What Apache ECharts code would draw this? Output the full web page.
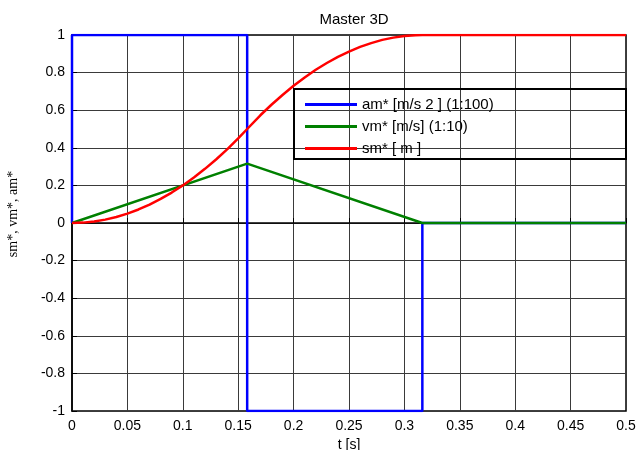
<!DOCTYPE html>
<html>
<head>
<meta charset="utf-8">
<script src="https://cdn.jsdelivr.net/npm/echarts@6/dist/echarts.min.js"></script>
<style>html,body{margin:0;padding:0;background:#fff}#c{width:637px;height:450px}</style>
</head>
<body>
<div id="c"></div>
<script>
var xTicks = [0, 0.05, 0.1, 0.15, 0.2, 0.25, 0.3, 0.35, 0.4, 0.45, 0.5];
var yTicks = [-1, -0.8, -0.6, -0.4, -0.2, 0, 0.2, 0.4, 0.6, 0.8, 1];
var seriesNames = ['am* [m/s 2 ] (1:100)', 'vm* [m/s] (1:10)', 'sm* [ m ]'];

var amT = [0, 0, 0.1581, 0.1581, 0.3162, 0.3162, 0.5];
var amV = [0, 1, 1, -1, -1, 0, 0];

var vmT = [0, 0.1581, 0.3162, 0.5];
var vmV = [0, 0.316, 0, 0];

var smT = [0, 0.01, 0.02, 0.03, 0.04, 0.05, 0.06, 0.07, 0.08, 0.09, 0.1, 0.11, 0.12, 0.13, 0.14, 0.15, 0.1581,
           0.17, 0.18, 0.19, 0.2, 0.21, 0.22, 0.23, 0.24, 0.25, 0.26, 0.27, 0.28, 0.29, 0.3, 0.31, 0.3162, 0.5];
var smV = [0, 0.002, 0.008, 0.018, 0.032, 0.05, 0.072, 0.098, 0.128, 0.162, 0.2, 0.242, 0.288, 0.338, 0.392, 0.45, 0.5,
           0.573, 0.629, 0.681, 0.73, 0.774, 0.815, 0.851, 0.884, 0.912, 0.937, 0.957, 0.974, 0.986, 0.995, 0.999, 1, 1];

function pairs(t, v) { return t.map(function (x, i) { return [x, v[i]]; }); }

var chart = echarts.init(document.getElementById('c'), null, {renderer: 'canvas'});
var font = 'Liberation Sans, Arial, sans-serif';
chart.setOption({
  animation: false,
  backgroundColor: '#fff',
  title: {
    text: 'Master 3D', left: 349, top: 7, textAlign: 'center',
    textStyle: {fontFamily: font, fontSize: 15, fontWeight: 'normal', color: '#000'}
  },
  grid: {left: 72, right: 11, top: 35, bottom: 39, containLabel: false, outerBoundsMode: 'none',
    show: true, borderColor: '#000', borderWidth: 1.5, backgroundColor: 'transparent'},
  legend: {
    orient: 'vertical', left: 300, top: 92,
    data: seriesNames.map(function (n) { return {name: n, icon: 'rect'}; }),
    itemWidth: 52, itemHeight: 3, itemGap: 7,
    textStyle: {fontFamily: font, fontSize: 15, color: '#000', lineHeight: 15},
    selectedMode: false
  },
  graphic: [{
    type: 'rect', shape: {x: 294, y: 89, width: 332, height: 70},
    style: {fill: 'none', stroke: '#000', lineWidth: 2}, z: 10
  }],
  xAxis: {
    type: 'value', min: 0, max: 0.5, interval: 0.05,
    name: 't [s]', nameLocation: 'middle', nameGap: 23,
    nameTextStyle: {fontFamily: font, fontSize: 14, color: '#000'},
    axisLine: {show: true, lineStyle: {color: '#000', width: 1.5}},
    axisTick: {show: true, inside: true, length: 5, lineStyle: {color: '#000'}},
    axisLabel: {fontFamily: font, fontSize: 14, color: '#000', margin: 8,
      formatter: function (v) { return String(Math.round(v * 100) / 100); }},
    splitLine: {show: true, lineStyle: {color: '#3a3a3a', width: 1}}
  },
  yAxis: {
    type: 'value', min: -1, max: 1, interval: 0.2,
    name: 'sm*, vm*, am*', nameLocation: 'middle', nameGap: 52,
    nameTextStyle: {fontFamily: 'Liberation Serif, Times New Roman, serif', fontSize: 14, color: '#000', padding: [0, 0, 0, 18]},
    axisLine: {show: true, lineStyle: {color: '#000', width: 1.5}},
    axisTick: {show: true, inside: true, length: 5, lineStyle: {color: '#000'}},
    axisLabel: {fontFamily: font, fontSize: 14, color: '#000', margin: 7,
      formatter: function (v) { return String(Math.round(v * 10) / 10); }},
    splitLine: {show: true, lineStyle: {color: '#3a3a3a', width: 1}}
  },
  series: [
    {name: seriesNames[0], type: 'line', data: pairs(amT, amV), showSymbol: false, symbol: 'none',
      lineStyle: {color: '#0000ff', width: 2.5}, itemStyle: {color: '#0000ff'}},
    {name: seriesNames[1], type: 'line', data: pairs(vmT, vmV), showSymbol: false, symbol: 'none',
      lineStyle: {color: '#008000', width: 2.5}, itemStyle: {color: '#008000'}},
    {name: seriesNames[2], type: 'line', data: pairs(smT, smV), showSymbol: false, symbol: 'none', smooth: false,
      lineStyle: {color: '#ff0000', width: 2.5}, itemStyle: {color: '#ff0000'}}
  ]
});
</script>
</body>
</html>
